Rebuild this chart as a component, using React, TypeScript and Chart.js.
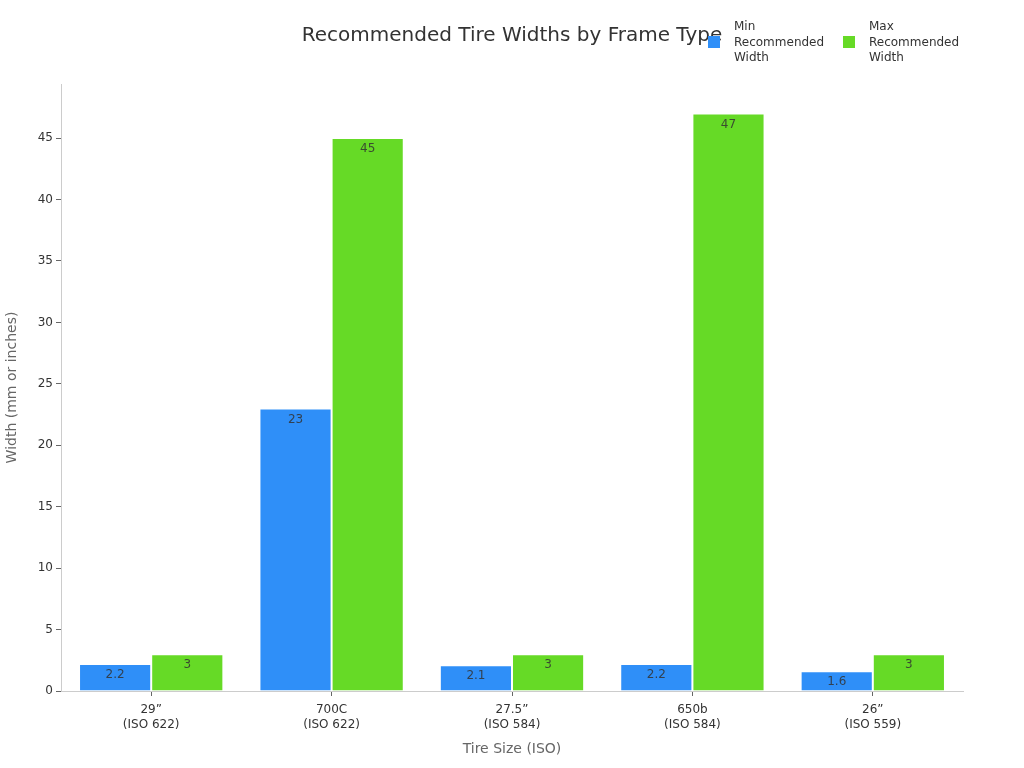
import React, { useEffect, useRef } from "react";
import { Chart, registerables } from "chart.js";

Chart.register(...registerables);

const categories: string[][] = [
  ["29\u201D", "(ISO 622)"],
  ["700C", "(ISO 622)"],
  ["27.5\u201D", "(ISO 584)"],
  ["650b", "(ISO 584)"],
  ["26\u201D", "(ISO 559)"],
];
const minWidths = [2.2, 23, 2.1, 2.2, 1.6];
const maxWidths = [3, 45, 3, 47, 3];
const seriesNames = [
  ["Min", "Recommended", "Width"],
  ["Max", "Recommended", "Width"],
];
const titleText = "Recommended Tire Widths by Frame Type";
const yTitle = "Width (mm or inches)";
const xTitle = "Tire Size (ISO)";

const BLUE = "#2f8ff8";
const GREEN = "#66da26";
const FONT = "'DejaVu Sans', sans-serif";

const overlayPlugin = {
  id: "overlay",
  afterDatasetsDraw(chart: any) {
    const ctx = chart.ctx;
    ctx.save();
    // value labels
    ctx.font = `12px ${FONT}`;
    ctx.fillStyle = "rgba(51,51,51,0.85)";
    ctx.textAlign = "center";
    ctx.textBaseline = "middle";
    chart.data.datasets.forEach((ds: any, di: number) => {
      const meta = chart.getDatasetMeta(di);
      meta.data.forEach((bar: any, i: number) => {
        ctx.fillText(String(ds.data[i]), bar.x, bar.y + 11);
      });
    });
    // title
    ctx.font = `20px ${FONT}`;
    ctx.fillStyle = "#333333";
    ctx.fillText(titleText, 512, 36);
    // legend
    const colors = [BLUE, GREEN];
    const xs = [708, 843];
    ctx.font = `12px ${FONT}`;
    ctx.textAlign = "left";
    seriesNames.forEach((lines, k) => {
      ctx.fillStyle = colors[k];
      ctx.fillRect(xs[k], 36, 12, 12);
      ctx.fillStyle = "#333333";
      lines.forEach((ln, j) => {
        ctx.fillText(ln, xs[k] + 26, 27 + j * 15.5);
      });
    });
    ctx.restore();
  },
};

export default function App() {
  const ref = useRef<HTMLCanvasElement | null>(null);
  useEffect(() => {
    document.body.style.margin = "0";
    if (!ref.current) return;
    const chart = new Chart(ref.current, {
      type: "bar",
      data: {
        labels: categories as any,
        datasets: [
          {
            label: seriesNames[0].join(" "),
            data: minWidths,
            backgroundColor: BLUE,
            borderColor: "#ffffff",
            borderWidth: 1,
          },
          {
            label: seriesNames[1].join(" "),
            data: maxWidths,
            backgroundColor: GREEN,
            borderColor: "#ffffff",
            borderWidth: 1,
          },
        ],
      },
      options: {
        animation: false,
        responsive: false,
        maintainAspectRatio: false,
        layout: { padding: { top: 84, right: 61, left: 0, bottom: 0 } },
        plugins: {
          legend: { display: false },
          title: { display: false },
          tooltip: { enabled: false },
        },
        datasets: {
          bar: { categoryPercentage: 0.8, barPercentage: 1.0 },
        },
        scales: {
          x: {
            grid: {
              display: true,
              offset: false,
              drawOnChartArea: false,
              drawTicks: true,
              tickLength: 5,
              color: "#666666",
            },
            border: { display: true, color: "#cccccc" },
            ticks: {
              color: "#333333",
              font: { family: FONT, size: 12 },
              padding: 7,
              maxRotation: 0,
            },
            title: {
              display: true,
              text: xTitle,
              color: "#666666",
              font: { family: FONT, size: 14 },
              padding: { top: 4, bottom: 10 },
            },
            afterFit: (scale: any) => {
              scale.height = 77;
            },
          },
          y: {
            min: 0,
            max: 49.4,
            grid: {
              display: true,
              drawOnChartArea: false,
              drawTicks: true,
              tickLength: 5,
              color: "#666666",
            },
            border: { display: true, color: "#cccccc" },
            ticks: {
              stepSize: 5,
              color: "#333333",
              font: { family: FONT, size: 12 },
              padding: 3,
            },
            afterBuildTicks: (scale: any) => {
              scale.ticks = scale.ticks.filter((t: any) => t.value % 5 === 0);
            },
            title: {
              display: true,
              text: yTitle,
              color: "#666666",
              font: { family: FONT, size: 14 },
              padding: 4,
            },
            afterFit: (scale: any) => {
              scale.width = 61;
            },
          },
        },
      },
      plugins: [overlayPlugin],
    });
    return () => chart.destroy();
  }, []);
  return (
    <div style={{ position: "absolute", left: 0, top: 0, width: 1024, height: 768 }}>
      <canvas ref={ref} width={1024} height={768} style={{ width: 1024, height: 768 }} />
    </div>
  );
}
